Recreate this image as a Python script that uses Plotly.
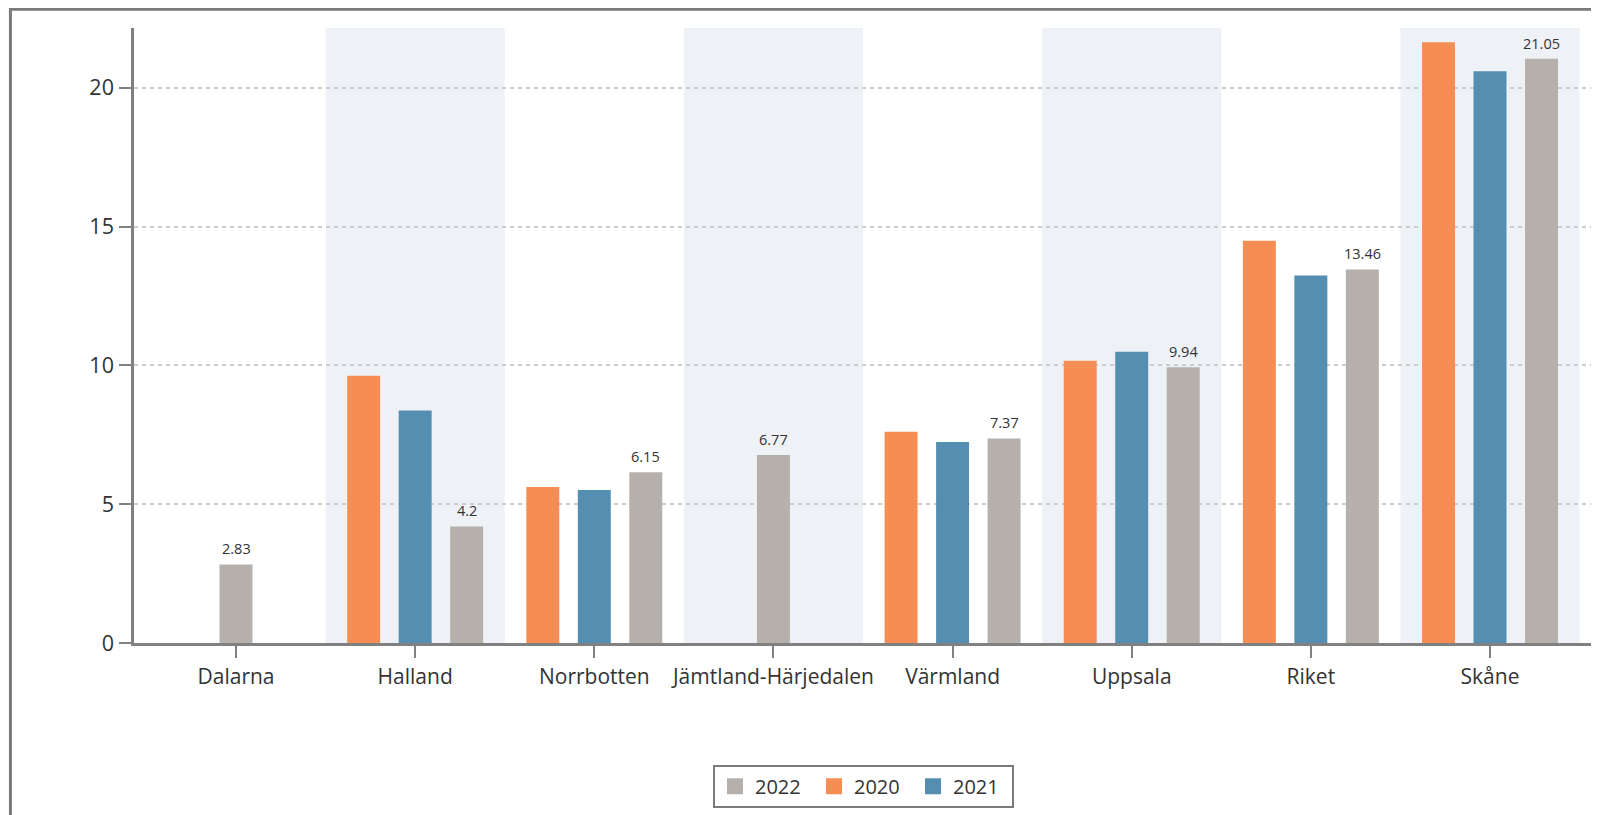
import plotly.graph_objects as go

categories = ["Dalarna", "Halland", "Norrbotten", "Jämtland-Härjedalen",
              "Värmland", "Uppsala", "Riket", "Skåne"]
v2020 = [None, 9.63, 5.62, None, 7.61, 10.17, 14.49, 21.65]
v2021 = [None, 8.38, 5.51, None, 7.24, 10.49, 13.24, 20.6]
v2022 = [2.83, 4.2, 6.15, 6.77, 7.37, 9.94, 13.46, 21.05]
y_ticks = [0, 5, 10, 15, 20]

series = [("2020", v2020, "#F68D52"), ("2021", v2021, "#548EB0"), ("2022", v2022, "#B5B0AC")]
legend_order = ["2022", "2020", "2021"]

BAR_W = 0.184
STEP = 0.2875

# per-category offsets so the bars present in a category are centred on it
offsets = {name: [None] * len(categories) for name, _, _ in series}
for i in range(len(categories)):
    present = [name for name, vals, _ in series if vals[i] is not None]
    n = len(present)
    for k, name in enumerate(present):
        offsets[name][i] = (k - (n - 1) / 2) * STEP - BAR_W / 2

fig = go.Figure()
colors = {n: c for n, _, c in series}
xs = list(range(len(categories)))
for name, vals, color in series:
    offs = [o if o is not None else 0 for o in offsets[name]]
    fig.add_trace(go.Bar(
        x=xs, y=vals, name=name, showlegend=False,
        marker=dict(color=color, line=dict(width=0)),
        width=[BAR_W] * len(categories), offset=offs, hoverinfo="y"))

# legend proxies (square swatches) in the reference's legend order
for name in legend_order:
    fig.add_trace(go.Scatter(
        x=[None], y=[None], mode="markers", name=name,
        marker=dict(symbol="square", size=16, color=colors[name])))

annotations = []
for i, v in enumerate(v2022):
    if v is None:
        continue
    annotations.append(dict(
        x=i + offsets["2022"][i] + BAR_W / 2, y=v, xref="x", yref="y",
        text=str(v), showarrow=False, yanchor="bottom", xanchor="center", yshift=4,
        font=dict(size=14.5, color="#333333", family="Open Sans")))

shapes = []
for i in range(len(categories)):
    if i % 2 == 1:
        shapes.append(dict(type="rect", xref="x", yref="paper", x0=i - 0.5, x1=i + 0.5,
                           y0=0, y1=1, fillcolor="#EEF2F7", line=dict(width=0), layer="below"))
# outer frame
shapes.append(dict(type="rect", xref="paper", yref="paper", x0=-0.0847, x1=1.2,
                   y0=-0.6, y1=1.0305, line=dict(color="#7a7a7a", width=3),
                   fillcolor="rgba(0,0,0,0)"))

fig.update_layout(
    width=1599, height=815,
    margin=dict(l=126, r=14, t=20, b=180),
    paper_bgcolor="white", plot_bgcolor="rgba(0,0,0,0)",
    barmode="overlay",
    font=dict(family="Open Sans", color="#333333"),
    shapes=shapes,
    annotations=annotations,
    showlegend=True,
    legend=dict(orientation="h", x=0.5, xanchor="center", y=-0.198, yanchor="top",
                bordercolor="#7a7a7a", borderwidth=2, font=dict(size=20, color="#333333"),
                traceorder="normal", entrywidth=54, entrywidthmode="pixels"),
    xaxis=dict(
        tickmode="array", tickvals=xs, ticktext=categories,
        range=[-0.5695, 7.575], showgrid=False, zeroline=False,
        showline=True, linecolor="#808080", linewidth=3,
        ticks="outside", ticklen=12, tickcolor="#808080", tickwidth=2,
        ticklabelstandoff=1,
        tickfont=dict(size=21, color="#333333"),
    ),
    yaxis=dict(
        range=[0, 22.16], tickvals=y_ticks, showgrid=True, gridcolor="#CCCCCC",
        griddash="4px,4px", gridwidth=1.5, zeroline=False,
        showline=True, linecolor="#808080", linewidth=2.5,
        ticks="outside", ticklen=12, tickcolor="#808080", tickwidth=2,
        ticklabelstandoff=1,
        tickfont=dict(size=21.5, color="#333333"),
    ),
)

fig.write_html("out.html")
